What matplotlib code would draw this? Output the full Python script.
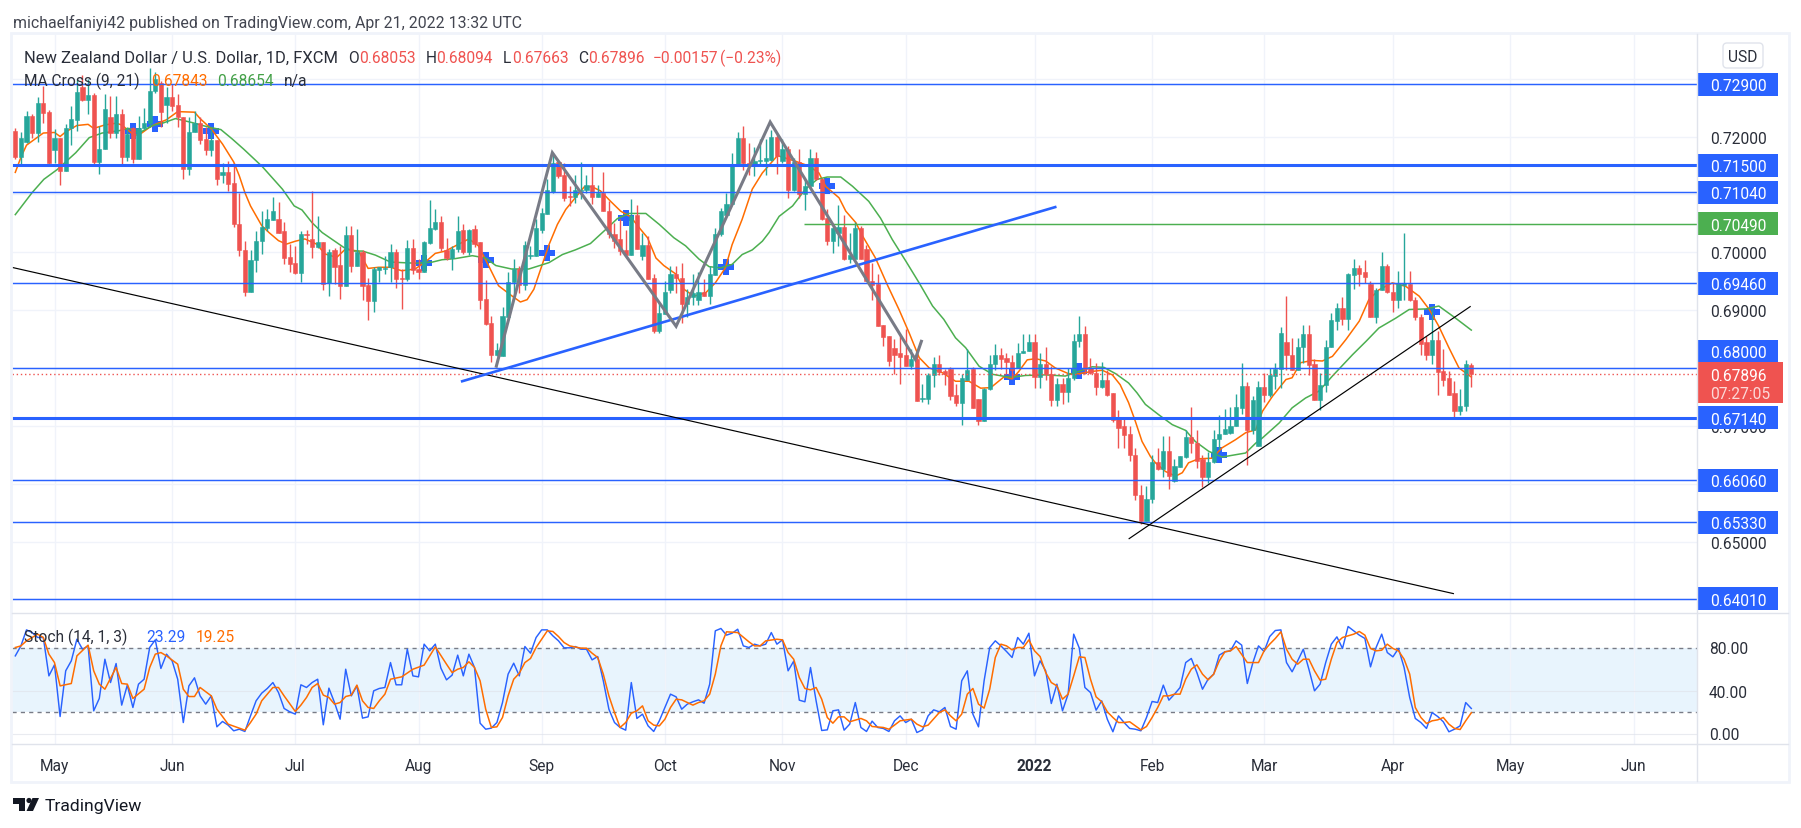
import matplotlib
matplotlib.use('Agg')
import matplotlib.pyplot as plt
from matplotlib.patches import Rectangle, FancyBboxPatch, Polygon, Circle

# values, one entry per trading day starting late Apr 2021
opens = [
    .7210, .7165, .7190, .7236, .7206, .7258, .7242, .7177, .7197, .7141,
    .7214, .7228, .7285, .7263, .7272, .7156, .7178, .7233, .7206, .7239,
    .7165, .7214, .7161, .7214, .7224, .7278, .7293, .7254, .7269, .7254,
    .7233, .7144, .7207, .7224, .7196, .7177, .7194, .7134, .7138, .7120,
    .7049, .7003, .6932, .6986, .7020, .7042, .7056, .7057, .7036, .6991,
    .6981, .6964, .7031, .7023, .7009, .7017, .6946, .7004, .6978, .6942,
    .7030, .6977, .7000, .6943, .6916, .6970, .6971, .6974, .7000, .6955,
    .6953, .7008, .6971, .6965, .7016, .7040, .7053, .7004, .6990, .7006,
    .7038, .7001, .7040, .7017, .6919, .6877, .6822, .6821, .6888, .6948,
    .6971, .6943, .6994, .6994, .7039, .7066, .7104, .7156, .7133, .7097,
    .7095, .7106, .7107, .7117, .7095, .7102, .7072, .7032, .7022, .7003,
    .6996, .7064, .6993, .7013, .6955, .6864, .6894, .6934, .6962, .6956,
    .6910, .6922, .6918, .6932, .6924, .6961, .7031, .7065, .7083, .7150,
    .7198, .7155, .7149, .7157, .7157, .7160, .7200, .7157, .7179, .7107,
    .7156, .7100, .7114, .7162, .7126, .7060, .7019, .7034, .7044, .6989,
    .6989, .7042, .7005, .6951, .6945, .6874, .6855, .6834, .6825, .6822,
    .6803, .6816, .6747, .6747, .6787, .6806, .6794, .6799, .6753, .6740,
    .6780, .6798, .6746, .6709, .6764, .6807, .6823, .6817, .6810, .6800,
    .6825, .6829, .6845, .6784, .6806, .6790, .6744, .6773, .6758, .6783,
    .6846, .6858, .6800, .6791, .6767, .6780, .6756, .6711, .6699, .6685,
    .6650, .6581, .6536, .6573, .6637, .6626, .6657, .6604, .6628, .6646,
    .6680, .6670, .6642, .6611, .6638, .6677, .6685, .6688, .6699, .6730,
    .6769, .6692, .6665, .6767, .6754, .6786, .6799, .6845, .6823, .6797,
    .6836, .6859, .6806, .6744, .6770, .6836, .6881, .6904, .6884, .6961,
    .6973, .6965, .6945, .6888, .6934, .6977, .6932, .6918, .6944, .6945,
    .6918, .6888, .6844, .6822, .6849, .6794, .6783, .6756, .6725, .6734,
    .68053,
]
highs = [
    .7215, .7207, .7244, .7239, .7269, .7288, .7245, .7213, .7198, .7221,
    .7253, .7299, .7306, .7299, .7276, .7219, .7273, .7270, .7270, .7247,
    .7216, .7216, .7236, .7250, .7318, .7311, .7296, .7285, .7291, .7273,
    .7233, .7233, .7244, .7233, .7216, .7213, .7194, .7154, .7158, .7155,
    .7103, .7020, .7003, .7037, .7072, .7074, .7096, .7087, .7053, .7014,
    .7011, .7037, .7039, .7106, .7062, .7017, .7005, .7008, .7011, .7046,
    .7046, .7040, .7003, .6956, .6975, .6975, .6994, .7014, .7005, .6971,
    .7021, .7023, .6988, .7020, .7090, .7074, .7063, .7025, .7011, .7062,
    .7049, .7040, .7047, .7017, .6952, .6890, .6843, .6905, .6966, .6988,
    .6977, .7019, .7011, .7057, .7077, .7126, .7172, .7157, .7155, .7115,
    .7134, .7156, .7134, .7152, .7117, .7139, .7088, .7051, .7058, .7039,
    .7092, .7081, .7034, .7028, .6963, .6913, .6951, .6977, .6977, .6981,
    .6936, .6962, .6965, .6954, .6976, .7042, .7077, .7103, .7171, .7208,
    .7218, .7189, .7181, .7195, .7195, .7212, .7205, .7195, .7183, .7163,
    .7179, .7126, .7178, .7174, .7128, .7075, .7045, .7081, .7065, .7034,
    .7052, .7046, .7013, .6982, .6962, .6875, .6856, .6850, .6856, .6868,
    .6832, .6830, .6772, .6792, .6819, .6823, .6798, .6802, .6772, .6789,
    .6832, .6802, .6746, .6766, .6823, .6842, .6834, .6826, .6823, .6843,
    .6858, .6858, .6858, .6825, .6836, .6803, .6783, .6783, .6800, .6858,
    .6890, .6873, .6817, .6808, .6810, .6797, .6757, .6728, .6714, .6700,
    .6662, .6598, .6596, .6650, .6662, .6682, .6683, .6642, .6647, .6693,
    .6733, .6693, .6650, .6654, .6692, .6718, .6729, .6733, .6755, .6809,
    .6776, .6751, .6778, .6791, .6800, .6809, .6871, .6925, .6851, .6852,
    .6875, .6875, .6815, .6791, .6849, .6895, .6913, .6923, .6964, .6989,
    .6978, .6987, .6951, .6938, .7000, .6979, .6947, .6968, .7034, .6967,
    .6922, .6893, .6855, .6904, .6863, .6833, .6794, .6777, .6764, .6813,
    .68094,
]
lows = [
    .7161, .7152, .7188, .7198, .7191, .7223, .7151, .7155, .7116, .7141,
    .7185, .7210, .7261, .7239, .7152, .7135, .7178, .7198, .7197, .7152,
    .7158, .7155, .7161, .7213, .7216, .7276, .7216, .7224, .7244, .7216,
    .7126, .7133, .7207, .7187, .7168, .7167, .7116, .7120, .7106, .7043,
    .6994, .6925, .6932, .6965, .6997, .7037, .7056, .7034, .6979, .6965,
    .6962, .6949, .7014, .6990, .7008, .6935, .6925, .6945, .6919, .6941,
    .6965, .6977, .6918, .6883, .6896, .6948, .6962, .6948, .6939, .6902,
    .6951, .6962, .6953, .6965, .7014, .7038, .7002, .6986, .6970, .7000,
    .6997, .6996, .7009, .6902, .6875, .6811, .6820, .6821, .6888, .6930,
    .6930, .6934, .6988, .6993, .7034, .7066, .7103, .7128, .7088, .7080,
    .7085, .7092, .7102, .7083, .7095, .7071, .7025, .7008, .6996, .6994,
    .6996, .7005, .6987, .6953, .6860, .6861, .6894, .6930, .6929, .6877,
    .6888, .6908, .6908, .6924, .6911, .6961, .7028, .7065, .7083, .7149,
    .7142, .7133, .7132, .7151, .7134, .7157, .7136, .7155, .7093, .7106,
    .7094, .7073, .7111, .7124, .7056, .7013, .6998, .7011, .6986, .6981,
    .6989, .6989, .6950, .6917, .6872, .6838, .6804, .6790, .6773, .6803,
    .6798, .6743, .6741, .6737, .6767, .6787, .6770, .6745, .6735, .6702,
    .6780, .6730, .6702, .6709, .6762, .6797, .6798, .6790, .6783, .6800,
    .6825, .6829, .6765, .6765, .6780, .6734, .6735, .6737, .6741, .6780,
    .6836, .6789, .6790, .6753, .6766, .6751, .6707, .6661, .6661, .6639,
    .6571, .6531, .6536, .6567, .6624, .6612, .6590, .6603, .6628, .6645,
    .6653, .6627, .6594, .6602, .6636, .6660, .6685, .6685, .6699, .6720,
    .6632, .6686, .6665, .6741, .6750, .6763, .6765, .6797, .6797, .6797,
    .6809, .6788, .6744, .6728, .6758, .6836, .6866, .6874, .6865, .6937,
    .6941, .6946, .6888, .6877, .6934, .6929, .6896, .6904, .6918, .6915,
    .6882, .6823, .6813, .6806, .6754, .6768, .6754, .6715, .6719, .6725,
    .67663,
]
closes = [
    .7165, .7197, .7236, .7206, .7258, .7240, .7155, .7197, .7141, .7214,
    .7230, .7277, .7263, .7272, .7156, .7179, .7247, .7206, .7239, .7165,
    .7204, .7161, .7214, .7224, .7278, .7299, .7243, .7269, .7253, .7233,
    .7144, .7207, .7224, .7194, .7177, .7194, .7126, .7138, .7118, .7048,
    .7003, .6931, .6986, .7020, .7043, .7057, .7071, .7034, .6990, .6979,
    .6964, .7031, .7030, .7009, .7017, .6945, .7000, .6975, .6942, .7030,
    .6977, .7000, .6942, .6916, .6971, .6975, .6972, .7000, .6953, .6953,
    .7008, .6970, .6966, .7018, .7041, .7053, .7008, .6990, .7006, .7037,
    .7001, .7038, .7015, .6918, .6876, .6822, .6831, .6890, .6949, .6971,
    .6943, .7013, .6996, .7041, .7067, .7107, .7155, .7132, .7094, .7096,
    .7107, .7107, .7117, .7095, .7102, .7071, .7031, .7020, .7002, .6996,
    .7062, .7005, .7013, .6953, .6864, .6895, .6932, .6962, .6955, .6910,
    .6923, .6930, .6932, .6924, .6962, .7032, .7072, .7084, .7151, .7198,
    .7155, .7149, .7157, .7159, .7162, .7200, .7166, .7179, .7107, .7156,
    .7100, .7115, .7162, .7126, .7058, .7019, .7042, .7044, .6989, .6996,
    .7042, .6989, .6950, .6944, .6872, .6853, .6812, .6823, .6819, .6803,
    .6816, .6743, .6748, .6787, .6806, .6793, .6790, .6751, .6740, .6782,
    .6796, .6730, .6709, .6764, .6807, .6823, .6815, .6810, .6797, .6826,
    .6830, .6845, .6784, .6806, .6790, .6744, .6773, .6758, .6783, .6847,
    .6858, .6799, .6791, .6767, .6780, .6754, .6710, .6697, .6684, .6649,
    .6580, .6536, .6574, .6637, .6626, .6657, .6613, .6630, .6647, .6680,
    .6670, .6640, .6611, .6638, .6677, .6685, .6695, .6699, .6732, .6769,
    .6692, .6744, .6767, .6754, .6787, .6799, .6860, .6822, .6797, .6837,
    .6859, .6805, .6744, .6771, .6837, .6882, .6904, .6884, .6963, .6973,
    .6963, .6958, .6888, .6935, .6977, .6931, .6918, .6945, .6946, .6917,
    .6888, .6842, .6822, .6849, .6793, .6780, .6754, .6725, .6735, .6806,
    .67896,
]

ma9_days = [
    0, 1, 2, 5, 7, 8, 9, 11, 13, 14, 16, 18, 19, 21, 22, 24, 25, 27, 29, 32, 33, 35, 37, 39, 40,
    41, 42, 44, 45.3, 47, 48.4, 50, 51.7, 53.8, 55.3, 57.4, 58.9, 61.3, 63, 64.9, 67, 69, 71.4,
    73.2, 75, 76.8, 79.2, 81, 82.7, 84.5, 86.3, 88.75, 90.2, 91.4, 92.6, 93.8, 95.3, 96.8, 98.3,
    100, 101.6, 103, 104.5, 106.3, 108.1, 109.9, 111.7, 112.9, 114.4, 115.8, 118, 119.4, 121.2,
    123.3, 125, 126.8, 128, 129.8, 131.6, 133.4, 135.2, 136.1, 139.4, 141.7, 143.5, 144.7, 147.1,
    148.3, 150.1, 151.3, 153.6, 155.7, 157.8, 159.6, 161.4, 163.2, 165.5, 167.9, 170.3, 172.4,
    174.2, 176.6, 178, 179.2, 180.7, 182.2, 184, 185.7, 188.1, 189.9, 192.3, 194.1, 195.9, 197.3,
    198.8, 200, 201.2, 202.7, 203.6, 205.4, 207.2, 208.4, 209.5, 211.3, 213.7, 215.5, 217.9,
    219.7, 221.5, 222.7, 224.5, 226.9, 228, 229.5, 231.6, 233.4, 235.2, 237.6, 240, 241.7, 243.5,
    245.9, 248.3, 250.7, 252.5, 254.2, 256, 257.8, 260,
]
ma9 = [
    .7138, .7164, .7185, .7206, .7207, .7200, .7208, .7219, .7221, .7214, .7220, .7223, .7220,
    .7204, .7202, .7216, .7221, .7229, .7243, .7242, .7231, .7213, .7187, .7156, .7132, .7103,
    .7080, .7046, .7034, .7020, .7014, .7019, .7023, .7014, .6997, .6991, .7005, .7002, .6972,
    .6974, .6974, .6968, .6971, .6983, .6998, .7002, .7014, .7023, .7011, .6977, .6942, .6924,
    .6914, .6918, .6936, .6970, .7013, .7048, .7074, .7094, .7113, .7113, .7106, .7088, .7071,
    .7061, .7039, .7025, .6990, .6977, .6962, .6936, .6924, .6930, .6947, .6973, .7013, .7057,
    .7109, .7137, .7157, .7167, .7157, .7149, .7137, .7114, .7094, .7071, .7051, .7028, .6990,
    .6944, .6901, .6861, .6818, .6800, .6792, .6777, .6777, .6765, .6766, .6785, .6781, .6794,
    .6814, .6816, .6812, .6800, .6790, .6790, .6794, .6796, .6788, .6771, .6740, .6708, .6673,
    .6647, .6636, .6621, .6613, .6619, .6636, .6643, .6644, .6662, .6676, .6688, .6693, .6725,
    .6751, .6780, .6783, .6809, .6813, .6812, .6820, .6849, .6881, .6918, .6935, .6947, .6941,
    .6924, .6901, .6872, .6835, .6800, .67843,
]
ma21_days = [
    0, 3, 5.1, 7.5, 10.8, 13.2, 15.5, 18.5, 20.3, 22.1, 24.5, 26.3, 28.6, 31.6, 34.6, 36.7, 38.7,
    40.8, 44.1, 47.7, 49.8, 51.2, 53, 54.8, 56.9, 58.7, 60.5, 62, 64.3, 67, 69.1, 71.5, 74.5, 76.2,
    78.6, 81.6, 84, 85.8, 88.6, 91.7, 95.3, 97.7, 100, 102.7, 105.4, 107.5, 109.6, 112.6, 115,
    117.6, 119.7, 122.1, 123.9, 126, 128, 129.8, 131.6, 133.4, 134.6, 136.4, 138.8, 141.1, 143.2,
    145, 147.4, 149.5, 152.4, 154.5, 156.6, 159, 161.4, 163.8, 165.8, 167.9, 169.7, 172.1, 174.5,
    176.9, 178, 180.4, 184, 187.5, 189.9, 192.3, 194.4, 196.5, 198.8, 200.3, 201.8, 204.2, 206.6,
    209, 210.7, 213.1, 215.5, 217.9, 219.7, 221.5, 222.7, 225.7, 228, 230.4, 232.8, 235.2, 238.8,
    241.2, 243.5, 246.5, 248.9, 251.9, 254.2, 257.2, 260,
]
ma21 = [
    .7065, .7103, .7126, .7143, .7172, .7198, .7206, .7210, .7214, .7206, .7219, .7223, .7231,
    .7224, .7216, .7212, .7196, .7178, .7148, .7109, .7080, .7073, .7051, .7034, .7020, .7008,
    .7002, .7002, .6995, .6983, .6982, .6981, .6983, .6987, .6989, .6994, .6990, .6977, .6971,
    .6971, .6982, .6996, .7004, .7015, .7039, .7058, .7067, .7067, .7048, .7025, .7011, .6988,
    .6975, .6973, .6979, .6996, .7004, .7019, .7034, .7062, .7080, .7109, .7126, .7130, .7130,
    .7114, .7088, .7059, .7022, .6985, .6947, .6907, .6884, .6852, .6835, .6803, .6789, .6785,
    .6784, .6787, .6788, .6786, .6794, .6802, .6801, .6790, .6774, .6757, .6737, .6719, .6702,
    .6692, .6673, .6656, .6646, .6650, .6653, .6670, .6679, .6705, .6731, .6748, .6760, .6786,
    .6823, .6846, .6869, .6886, .6901, .6902, .6907, .6886, .68654,
]
# where the two averages cross
cross_days = [21, 25, 35, 73, 84, 95, 109, 127, 145, 178, 190, 215, 253]
cross_prices = [.7209, .7221, .7210, .6981, .6987, .6998, .7060, .6975, .7114, .6785, .6794, .6650, .6896]

stoch_k = [
    72.2, 81.5, 96.4, 93.9, 89.3, 89.3, 53.6, 63.9, 15.8, 58.3, 67.6, 87.7, 78.4, 81.5, 21.1, 32.6,
    69.1, 47.4, 65.1, 26.4, 45, 24.2, 45.9, 50.5, 80, 87.1, 60.5, 73.8, 67.6, 50.5, 10.2, 44.3,
    51.8, 35, 27.3, 35, 6.2, 11.2, 7.8, 2.5, 4, 1.9, 16.4, 30.4, 37.5, 41.9, 47.4, 38.1, 23.3, 20.2,
    18, 45.3, 42.8, 47.4, 50.5, 8.1, 42.2, 28.8, 13.3, 59.8, 35, 44.3, 14.3, 15.5, 39.7, 41.9, 42.8,
    66, 45.3, 45.3, 78.4, 53.6, 52.7, 83.1, 76.9, 83.1, 60.8, 49.9, 54.3, 72.9, 53.6, 73.8, 61.4,
    9.6, 4, 5, 10.2, 28.8, 55.2, 65.4, 53.6, 80.9, 74.7, 89.3, 96.4, 96.4, 90.8, 86.2, 79.7, 79.7,
    80.9, 78.4, 78.4, 68.5, 71.6, 49, 22.6, 10.2, 5.6, 3.1, 47.4, 14, 18, 7.1, 1.9, 11.8, 24.2, 36.6,
    34.1, 22.6, 27.3, 29.5, 31.3, 28.2, 45.9, 95.5, 97.7, 91.5, 93.3, 97, 81.5, 80, 83.1, 81.5, 83.1,
    93.9, 83.1, 87.1, 58.3, 67.3, 31, 29.5, 61.4, 30.4, 2.8, 3.4, 21.1, 22, 3.1, 8.7, 28.8, 5.6, 1.9,
    11.5, 5.6, 4.7, 1.9, 11.8, 16.4, 10.2, 13.3, 0.9, 3.4, 16.4, 22, 20.2, 24.2, 6.5, 4, 49, 58.3, 18,
    6.2, 49, 80, 86.2, 81.5, 76.3, 70.7, 89.3, 83.1, 93.3, 53.6, 67.6, 58.3, 27.9, 45.9, 21.1, 36.6,
    92.4, 79.4, 42.8, 38.1, 21.7, 30.4, 13.3, 1.6, 16.4, 10.2, 4.7, 4, 2.5, 14.9, 29.8, 28.8, 45, 31,
    36.6, 42.8, 66, 69.8, 56.7, 41.2, 50.5, 55.2, 72.9, 76, 76.9, 86.2, 82.2, 46.5, 66, 81.5, 76.3,
    90.2, 95.8, 96.4, 66, 57.4, 67.6, 78.4, 59.8, 39.7, 45.9, 66, 83.1, 89.9, 79.1, 99.5, 95.5, 91.5,
    88.4, 62, 80, 92.4, 75.3, 71.3, 79.1, 61.4, 33.5, 14, 10.2, 4.7, 19.5, 15.8, 10.9, 1.6, 4, 7.1,
    28.8, 23.29,
]
stoch_d_days = [
    0, 1, 2, 4, 5, 6, 7, 8, 10, 11, 13, 14, 15, 16, 18, 19, 20, 21, 23, 24, 25, 26, 27, 29, 30, 31,
    32, 33, 35, 36, 37, 38, 41, 42, 43, 44, 45, 46, 47, 48, 50, 51, 52, 53, 54, 55, 56, 57, 58, 59,
    60, 61, 62, 63, 64, 65, 66, 67, 69, 71, 73, 75, 77, 78, 79, 80, 81, 82, 83, 84, 85, 86, 87, 88,
    89, 90, 91, 92, 93, 94, 95, 96, 97, 98, 99, 101, 102, 103, 104, 105, 106, 107, 108, 109, 110,
    111, 112, 113, 114, 115, 116, 117, 118, 119, 121, 122, 123, 124, 125, 126, 127, 129, 131, 132,
    133, 134, 136, 137, 138, 139, 140, 141, 142, 143, 144, 145, 146, 147, 148, 149, 151, 152, 153,
    155, 156, 157, 158, 160, 161, 162, 163, 165, 166, 167, 168, 169, 170, 171, 172, 173, 174, 175,
    176, 177, 178, 179, 180, 181, 182, 183, 184, 185, 186, 187, 188, 189, 190, 191, 192, 193, 194,
    195, 196, 197, 198, 199, 200, 201, 202, 203, 204, 205, 206, 207, 208, 209, 210, 211, 212, 213,
    214, 215, 216, 217, 218, 220, 221, 222, 223, 224, 225, 226, 227, 228, 229, 230, 231, 232, 233,
    234, 235, 236, 237, 238, 239, 240, 241, 242, 243, 244, 245, 246, 247, 248, 249, 250, 251, 252,
    253, 254, 255, 256, 257, 258, 259, 260,
]
stoch_d = [
    80, 81.5, 86.2, 92.4, 89.3, 73.8, 66, 44.3, 46.5, 72.2, 82.2, 58.3, 45.9, 41.2, 61.4, 46.5, 45.9,
    32.6, 41.2, 61.4, 73.8, 75.3, 72.2, 64.5, 41.2, 34.4, 34.4, 42.8, 35, 22.6, 15.8, 8.7, 3.1, 10.2,
    18, 30.4, 36.6, 42.8, 42.8, 35, 20.5, 26.4, 33.5, 42.8, 46.5, 35.7, 33.5, 27.3, 28.8, 34.4, 35.7,
    45, 30.4, 24.2, 23.3, 30.4, 36.6, 50.5, 52.7, 59.8, 63.6, 80.6, 64.5, 56.7, 59.8, 61.4, 66.7, 61.4,
    49, 22.6, 5.6, 6.2, 14.9, 35, 50.5, 56.1, 66, 69.8, 80, 87.7, 95.5, 94.9, 90.2, 84.6, 81.5, 79.4,
    79.4, 74.7, 70.7, 55.2, 35, 19.5, 5.6, 10.2, 18.9, 21.1, 25.7, 11.8, 7.8, 7.1, 13.3, 24.2, 31.9,
    31.3, 26.4, 28.8, 30.4, 36.6, 55.2, 81.5, 94.6, 93.9, 85.3, 81.5, 81.5, 86.2, 87.7, 87.1, 75.3,
    69.1, 52.1, 41.9, 40.6, 42.8, 31.9, 14.9, 9.6, 15.5, 15.5, 10.9, 14, 11.8, 6.5, 5.6, 4, 7.8, 11.8,
    13.3, 8.7, 6.2, 7.8, 19.5, 22, 16.4, 11.8, 18, 36.6, 41.9, 27.3, 23.6, 41.2, 70.7, 83.1, 81.5, 77.8,
    80, 80, 87.1, 76.9, 71.6, 56.7, 47.4, 44.3, 31.9, 36.6, 53.6, 71.3, 70.7, 50.5, 34.1, 29.5, 20.2,
    14.9, 10.2, 10.2, 10.9, 7.1, 3.4, 6.5, 14.9, 24.2, 35, 35, 36.6, 36.6, 50.5, 59.8, 63.9, 55.2, 49.9,
    55.2, 67.6, 76, 76.9, 80.9, 66, 66, 66, 76.9, 83.1, 88.4, 94.6, 78.4, 69.1, 64.5, 69.1, 69.1, 58.3,
    49.6, 50.5, 69.1, 84.6, 89.3, 90.8, 92.4, 94.9, 91.5, 79.1, 76.9, 77.5, 83.1, 79.1, 76.9, 69.1,
    55.2, 24.2, 14.9, 9.3, 11.8, 12.7, 14.9, 8.7, 4.7, 3.7, 11.8, 19.25,
]

level_prices = [.7290, .7150, .7104, .6946, .6800, .6714, .6606, .6533, .6401]
thick_levels = [.7150, .6714]
resistance_green = .7049
last_price = .67896

# drawn trend lines, (day, price) at each end
fall_line_days = [-0.5, 256.8]
fall_line_prices = [.69736, .6410]
rise_line_days = [79.8, 185.7]
rise_line_prices = [.6777, .7078]
up_line_days = [198.9, 259.8]
up_line_prices = [.6505, .6906]
zigzag_days = [85.9, 95.9, 118, 134.8, 160.7, 161.8]
zigzag_prices = [.6803, .7172, .6872, .7225, .6815, .6846]

month_days = [7, 28, 50, 72, 94, 116, 137, 159, 182, 203, 223, 246, 267, 289]
month_names = ['May', 'Jun', 'Jul', 'Aug', 'Sep', 'Oct', 'Nov', 'Dec', '2022', 'Feb', 'Mar', 'Apr', 'May', 'Jun']
price_ticks = [.72, .70, .69, .67, .65]
price_grid = [.73, .72, .71, .70, .69, .68, .67, .66, .65, .64]
stoch_ticks = [80, 40, 0]

UP = '#26a69a'
DOWN = '#ef5350'
BLUE = '#2962ff'
ORANGE = '#ff6d00'
GREEN = '#4caf50'
GRID = '#f0f3fa'
BORDER = '#e0e3eb'
TEXT = '#2a2e39'
W, H = 1801, 829
FS = 11.2
PX = 5786
PRICE_TOP = 0.72 + (137.5 - 35) / PX
PRICE_BOTTOM = 0.72 - (614 - 137.5) / PX
DAY_LEFT = (12 - 15.3) / 5.6
DAY_RIGHT = (1697 - 15.3) / 5.6
TEXT_DY = 1.5

plt.rcParams['font.family'] = ['Roboto', 'DejaVu Sans']


def px_box(left, top, right, bottom):
    return [left / W, 1 - bottom / H, (right - left) / W, (bottom - top) / H]


def draw_candles(ax):
    for day in range(len(opens)):
        color = UP if closes[day] >= opens[day] else DOWN
        ax.vlines(day, lows[day], highs[day], color=color, lw=1, zorder=3)
        ax.bar(day, closes[day] - opens[day], bottom=opens[day], width=0.76, color=color,
               edgecolor=color, lw=0.4, zorder=3)


def price_pane(ax):
    ax.set_xlim(DAY_LEFT, DAY_RIGHT)
    ax.set_ylim(PRICE_BOTTOM, PRICE_TOP)
    ax.axis('off')
    ax.hlines(price_grid, DAY_LEFT, DAY_RIGHT, color=GRID, lw=1, zorder=0)
    ax.vlines(month_days, PRICE_BOTTOM, PRICE_TOP, color=GRID, lw=1, zorder=0)
    ax.plot(cross_days, cross_prices, ls='none', marker='P', ms=12, color=BLUE, mew=0, zorder=1)
    ax.plot(ma9_days, ma9, color=ORANGE, lw=1.1, zorder=2)
    ax.plot(ma21_days, ma21, color=GREEN, lw=1.1, zorder=2)
    draw_candles(ax)
    for level in level_prices:
        ax.hlines(level, DAY_LEFT, DAY_RIGHT, color=BLUE, lw=2.2 if level in thick_levels else 1.05, zorder=4)
    ax.hlines(resistance_green, 140.9, DAY_RIGHT, color=GREEN, lw=1.05, zorder=4)
    ax.hlines(last_price, DAY_LEFT, DAY_RIGHT, color=DOWN, lw=1, ls=(0, (1, 2)), zorder=4)
    ax.plot(fall_line_days, fall_line_prices, color='black', lw=0.85, zorder=5)
    ax.plot(up_line_days, up_line_prices, color='black', lw=0.85, zorder=5)
    ax.plot(rise_line_days, rise_line_prices, color=BLUE, lw=1.9, zorder=5)
    ax.plot(zigzag_days, zigzag_prices, color='#787b86', lw=2.2, zorder=5, solid_joinstyle='miter')


def stoch_pane(ax):
    ax.set_xlim(DAY_LEFT, DAY_RIGHT)
    ax.set_ylim((734.5 - 745) / 1.075, (734.5 - 615) / 1.075)
    ax.axis('off')
    ax.axhspan(20, 80, color='#2196f3', alpha=0.1, lw=0, zorder=0)
    ax.hlines([40, 0], DAY_LEFT, DAY_RIGHT, color=BORDER, lw=0.8, alpha=0.7, zorder=1)
    ax.vlines(month_days, -11, 111, color=GRID, lw=1, zorder=0)
    ax.hlines([80, 20], DAY_LEFT, DAY_RIGHT, color='#787b86', lw=1, ls=(0, (3, 3)), zorder=2)
    ax.plot(range(len(stoch_k)), stoch_k, color=BLUE, lw=1.05, zorder=3)
    ax.plot(stoch_d_days, stoch_d, color=ORANGE, lw=1.1, zorder=4)


def price_label(ax, price, text, color, y_shift=0.0):
    top = price + y_shift + 11.5 / PX
    ax.add_patch(FancyBboxPatch((0, top - 23 / PX), 81, 23 / PX, boxstyle='square,pad=0',
                                fc=color, ec='none', zorder=3))
    ax.text(13.5, price + y_shift - TEXT_DY / PX, text, color='white', fontsize=FS, va='center', ha='left', zorder=4)


def price_scale(ax):
    ax.set_xlim(0, 91)
    ax.set_ylim(PRICE_BOTTOM, PRICE_TOP)
    ax.axis('off')
    for tick in price_ticks:
        ax.text(13, tick - TEXT_DY / PX, f'{tick:.5f}', color=TEXT, fontsize=FS, va='center', ha='left', zorder=1)
    for level in level_prices:
        # the 0.68 label gets pushed up by the live price tag under it
        shift = 16.5 / PX if level == .6800 else 0.0
        price_label(ax, level, f'{level:.5f}', BLUE, shift)
    price_label(ax, resistance_green, f'{resistance_green:.5f}', GREEN)
    box_top = PRICE_TOP - (363 - 35) / PX
    ax.add_patch(Rectangle((0, box_top - 41 / PX), 86, 41 / PX, fc=DOWN, ec='none', zorder=5))
    ax.text(13.5, PRICE_TOP - (376.5 - 35) / PX, f'{last_price:.5f}', color='white', fontsize=FS,
            va='center', ha='left', zorder=6)
    ax.text(13.5, PRICE_TOP - (395 - 35) / PX, '07:27:05', color='#fcd9d8', fontsize=FS,
            va='center', ha='left', zorder=6)


def put(ax, x, y, text, color=TEXT, size=FS, **kw):
    ax.text(x, y + TEXT_DY, text, color=color, fontsize=size, va='center', **kw)


def overlay(ax):
    ax.set_xlim(0, W)
    ax.set_ylim(H, 0)
    ax.axis('off')
    ax.patch.set_alpha(0)
    ax.add_patch(Rectangle((11, 34), 1778, 749, fc='none', ec=GRID, lw=2))
    ax.plot([12, 1788], [614, 614], color=BORDER, lw=1)
    ax.plot([12, 1788], [745, 745], color=BORDER, lw=1)
    ax.plot([1697, 1697], [35, 782], color=BORDER, lw=1)
    put(ax, 13, 21, 'michaelfaniyi42 published on TradingView.com, Apr 21, 2022 13:32 UTC', '#434651', 11.4)
    put(ax, 24, 57, 'New Zealand Dollar / U.S. Dollar, 1D, FXCM', size=11.9)
    header = [(348, 'O', TEXT), (359, '0.68053', DOWN), (425.5, 'H', TEXT), (436, '0.68094', DOWN),
              (503, 'L', TEXT), (512, '0.67663', DOWN), (578, 'C', TEXT), (588, '0.67896', DOWN),
              (653, '\u22120.00157', DOWN), (720, '(\u22120.23%)', DOWN)]
    for x, label, color in header:
        put(ax, x, 57, label, color)
    put(ax, 24, 80, 'MA Cross (9, 21)')
    put(ax, 151, 80, '0.67843', ORANGE)
    put(ax, 217, 80, '0.68654', '#43a047')
    put(ax, 284, 80, 'n/a')
    put(ax, 24, 636, 'Stoch (14, 1, 3)')
    put(ax, 146, 636, '23.29', BLUE)
    put(ax, 196, 636, '19.25', ORANGE)
    for day, name in zip(month_days, month_names):
        put(ax, 15.3 + 5.6 * day, 765, name, ha='center', fontweight='bold' if name == '2022' else 'normal')
    for tick in stoch_ticks:
        put(ax, 1709, 734.5 - 1.075 * tick, f'{tick:.2f}')
    ax.add_patch(FancyBboxPatch((1726, 47), 34, 19, boxstyle='round,pad=3,rounding_size=4',
                                fc='white', ec=BORDER, lw=1))
    put(ax, 1743, 55.5, 'USD', ha='center')
    # TradingView mark and name
    ax.add_patch(Polygon([(13, 799), (25, 799), (25, 812), (18.5, 812), (18.5, 804.5), (13, 804.5)], fc='#131722'))
    ax.add_patch(Circle((29, 801.5), 2.6, fc='#131722'))
    ax.add_patch(Polygon([(32.5, 799), (39, 799), (33, 812), (26.5, 812)], fc='#131722'))
    put(ax, 45, 805, 'TradingView', '#131722', 12.6)


def main():
    fig = plt.figure(figsize=(W / 100, H / 100), dpi=100, facecolor='white')
    ax_price = fig.add_axes(px_box(12, 35, 1697, 614))
    ax_stoch = fig.add_axes(px_box(12, 615, 1697, 745))
    ax_scale = fig.add_axes(px_box(1697, 35, 1788, 614))
    ax_over = fig.add_axes([0, 0, 1, 1], zorder=10)
    price_pane(ax_price)
    stoch_pane(ax_stoch)
    price_scale(ax_scale)
    overlay(ax_over)
    fig.savefig('out.png', dpi=100)


if __name__ == '__main__':
    main()
